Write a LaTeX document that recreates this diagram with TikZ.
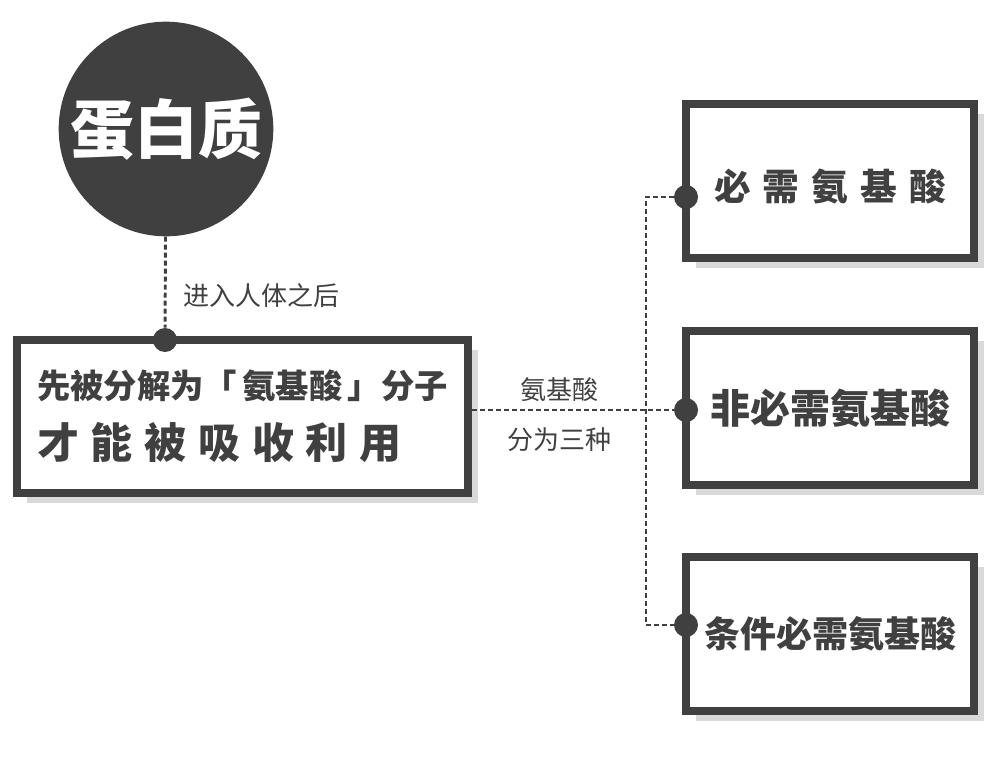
\documentclass[tikz,border=0pt]{standalone}
\usepackage{fontspec}
\newfontfamily\cjk{Noto Sans CJK SC}
\usepackage{xcolor}
\usepackage{tikz}
\usetikzlibrary{positioning,shadows}
\definecolor{ink}{HTML}{404040}
\definecolor{shade}{HTML}{D9D9D9}

\begin{document}
\begin{tikzpicture}[
  x=0.75pt,y=-0.75pt,
  every node/.style={font=\cjk,text=ink},
  boxshadow/.style={drop shadow={shadow xshift=7.5pt,shadow yshift=-7.5pt,fill=shade,opacity=1}},
  mainrect/.style={draw=ink,line width=6pt,fill=white,boxshadow,minimum width=338pt,minimum height=115pt,inner sep=0pt,align=left},
  kindbox/.style={draw=ink,line width=6pt,fill=white,boxshadow,minimum width=216pt,minimum height=115.5pt,inner sep=0pt},
  protein/.style={circle,fill=ink,minimum size=161pt,inner sep=0pt,text=white,font=\cjk\bfseries\fontsize{48}{48}\selectfont},
  dot/.style={circle,fill=ink,minimum size=18pt,inner sep=0pt},
  link/.style={draw=ink,line width=2.2pt,dash pattern=on 3.75pt off 2.25pt},
  note/.style={font=\cjk\fontsize{19.5}{22}\selectfont}
]
  \useasboundingbox (0,0) rectangle (1000,760);

  % protein and the first step
  \node[protein] (prot) at (166,129) {蛋白质};
  \node[mainrect] (mainbox) at (242.5,416.5)
    {{\bfseries\fontsize{25}{46.5}\selectfont 先被分解为「\kern4pt 氨基酸\kern4pt 」分子}\\[14.5pt]
     {\bfseries\fontsize{31.5}{46.5}\selectfont\addfontfeature{LetterSpace=28}才能被吸收利用}};

  % the three kinds
  \node[kindbox] (ess) at (830,181)
    {\raisebox{-4.5pt}[\height][\depth]{\bfseries\fontsize{27.5}{30}\selectfont\addfontfeature{LetterSpace=33}必需氨基酸}};
  \node[kindbox] (noness) at (830,408)
    {\bfseries\fontsize{30}{33}\selectfont 非必需氨基酸};
  \node[kindbox] (cond) at (830,634)
    {\bfseries\fontsize{27}{30}\selectfont 条件必需氨基酸};

  \node[dot] (d0) at (165,340) {};
  \node[dot] (d1) at (686,197) {};
  \node[dot] (d2) at (686,410) {};
  \node[dot] (d3) at (686,625) {};
  \coordinate (j1) at (646,197);
  \coordinate (j3) at (646,625);

  \draw[link] (prot) -- (d0);
  \draw[link] (mainbox.east |- d2) -- (d2);
  \draw[link] (d1) -- (j1) -- (j3) -- (d3);

  \node[note,anchor=west] (enter) at (179,296) {进入人体之后};
  \node[note] (aa) at (559,390) {氨基酸};
  \node[note] (three) at (559,440) {分为三种};
\end{tikzpicture}
\end{document}
